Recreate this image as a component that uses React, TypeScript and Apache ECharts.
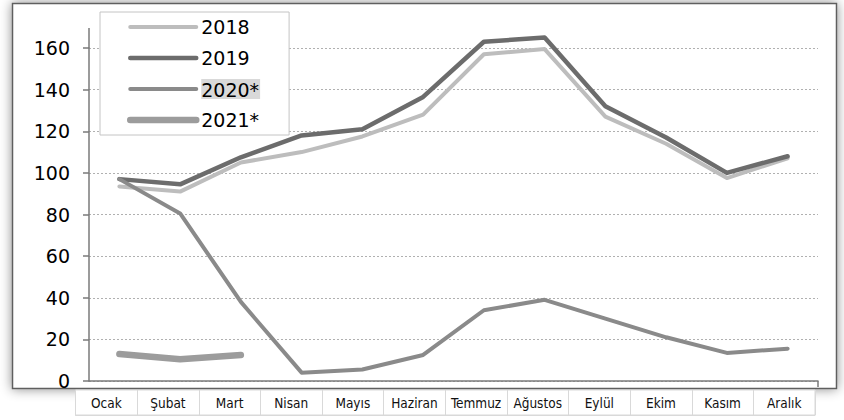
import React, { useEffect, useRef } from "react";
import * as echarts from "echarts";

const months = ["Ocak", "Şubat", "Mart", "Nisan", "Mayıs", "Haziran", "Temmuz", "Ağustos", "Eylül", "Ekim", "Kasım", "Aralık"];
const seriesNames = ["2018", "2019", "2020*", "2021*"];
const data2018 = [93.5, 91, 105, 110, 117.5, 128, 157, 159.5, 127, 114, 97.5, 107];
const data2019 = [97, 94.5, 107.5, 118, 121, 136.5, 163, 165, 132, 117, 100, 108];
const data2020 = [97, 80.5, 38, 4, 5.5, 12.5, 34, 39, 30, 21, 13.5, 15.5];
const data2021 = [13, 10.5, 12.5, null, null, null, null, null, null, null, null, null];
const yTicks = { min: 0, max: 160, interval: 20 };

const colors = ["#bdbdbd", "#6c6c6c", "#8a8a8a", "#9c9c9c"];
const widths = [4, 4.5, 4, 6.5];

export default function App() {
  const ref = useRef<HTMLDivElement>(null);
  useEffect(() => {
    if (!ref.current) return;
    const chart = echarts.init(ref.current, null, { renderer: "svg" });
    const values = [data2018, data2019, data2020, data2021];
    const axisColor = "#7a7a7a";
    const mainFont = "DejaVu Sans, Verdana, sans-serif";
    chart.setOption({
      animation: false,
      backgroundColor: "#fff",
      graphic: [
        {
          type: "rect",
          z: -1,
          shape: { x: 12.5, y: 3.5, width: 824, height: 385 },
          style: { fill: "#fff", stroke: "#5e5e5e", lineWidth: 1.5, shadowBlur: 12, shadowColor: "rgba(0,0,0,0.45)" },
        },
        {
          type: "line",
          z: 5,
          shape: { x1: 89, y1: 28, x2: 89, y2: 48 },
          style: { stroke: axisColor, lineWidth: 1.5 },
        },
        {
          type: "line",
          z: 5,
          shape: { x1: 818, y1: 381, x2: 818, y2: 387 },
          style: { stroke: axisColor, lineWidth: 1.5 },
        },
      ],
      legend: {
        orient: "vertical",
        left: 100,
        top: 12,
        padding: [5, 29, 5, 27],
        backgroundColor: "#fff",
        borderColor: "#c4c4c4",
        borderWidth: 1,
        itemWidth: 66,
        itemHeight: 14,
        itemGap: 11,
        itemStyle: { opacity: 0 },
        data: seriesNames.map((name, i) => ({
          name,
          lineStyle: { width: widths[i], color: colors[i], cap: "round" },
        })),
        formatter: (name: string) => (name === "2020*" ? `{hl|${name}}` : name),
        textStyle: {
          fontSize: 19,
          lineHeight: 20,
          color: "#000",
          fontFamily: mainFont,
          rich: {
            hl: {
              fontSize: 19,
              lineHeight: 20,
              color: "#000",
              fontFamily: mainFont,
              backgroundColor: "#d9d9d9",
              padding: [1, 1, 0, 0],
            },
          },
        },
      },
      grid: [
        { left: 89, right: 26, top: 48, bottom: 39 },
        {
          left: 75.5,
          right: 29,
          top: 390,
          height: 25,
          show: true,
          backgroundColor: "#fff",
          borderColor: "#d9d9d9",
          borderWidth: 1,
        },
      ],
      xAxis: [
        {
          type: "category",
          gridIndex: 0,
          data: months,
          boundaryGap: true,
          axisLine: { lineStyle: { color: axisColor, width: 1.5 } },
          axisTick: { alignWithLabel: true, length: 6, lineStyle: { color: axisColor, width: 1.5 } },
          axisLabel: { show: false },
          splitLine: { show: false },
        },
        {
          type: "category",
          gridIndex: 1,
          data: months,
          boundaryGap: true,
          axisLine: { show: true, lineStyle: { color: "#d9d9d9", width: 1 } },
          axisTick: { show: false },
          axisLabel: {
            inside: true,
            margin: 5,
            interval: 0,
            fontSize: 13.5,
            color: "#111",
            fontFamily: "Liberation Sans Narrow, DejaVu Sans Condensed, Arial Narrow, sans-serif",
          },
          splitLine: { show: true, interval: 0, lineStyle: { color: "#d9d9d9", width: 1 } },
        },
      ],
      yAxis: [
        {
          type: "value",
          gridIndex: 0,
          min: yTicks.min,
          max: yTicks.max,
          interval: yTicks.interval,
          axisLine: { show: true, lineStyle: { color: axisColor, width: 1.5 } },
          axisTick: { show: true, length: 6, lineStyle: { color: axisColor, width: 1.5 } },
          axisLabel: { margin: 19, fontSize: 19, color: "#000", fontFamily: mainFont },
          splitLine: { show: true, lineStyle: { color: "#b0b0b0", width: 1, type: [2, 2] } },
        },
        { type: "value", gridIndex: 1, show: false },
      ],
      series: seriesNames.map((name, i) => ({
        name,
        type: "line",
        xAxisIndex: 0,
        yAxisIndex: 0,
        data: values[i],
        symbol: "none",
        showSymbol: false,
        clip: false,
        connectNulls: false,
        lineStyle: { color: colors[i], width: widths[i], cap: "round", join: "round" },
        itemStyle: { color: colors[i] },
      })),
    });
    return () => chart.dispose();
  }, []);
  return <div ref={ref} style={{ position: "fixed", left: 0, top: 0, width: 844, height: 420 }} />;
}
